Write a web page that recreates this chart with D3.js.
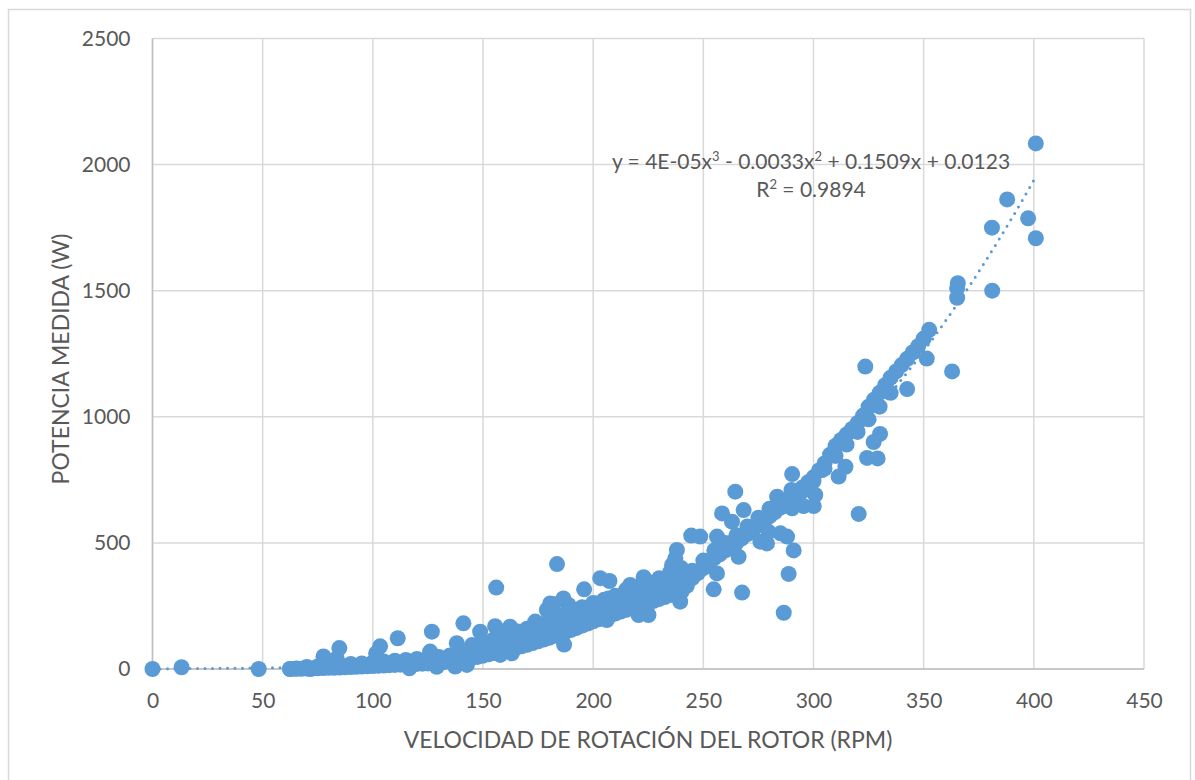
<!DOCTYPE html>
<html>
<head>
<meta charset="utf-8">
<script src="https://cdn.jsdelivr.net/npm/d3@7"></script>
<style>
  html, body { margin: 0; padding: 0; background: #ffffff; }
  svg { display: block; font-family: "Lato", "Open Sans", sans-serif; }
</style>
</head>
<body>
<svg id="chart" width="1195" height="780"></svg>
<script>
// Axis ticks
const xTicks = [0, 50, 100, 150, 200, 250, 300, 350, 400, 450];
const yTicks = [0, 500, 1000, 1500, 2000, 2500];

// Rotor speed (RPM) vs measured power (W): lower edge of the dense cloud
const bandLow = [
  [62.5,0],[65,1],[67.5,1],[70,2],[72.5,2],[75,3],[77.5,4],[80,5],[82.5,5],[85,6],
  [87.5,7],[90,8],[92.5,9],[95,10],[97.5,11],[100,12],[102.5,13],[105,14],[107.5,15],[110,16],
  [112.5,17],[115,18],[117.5,19],[120,20],[122.5,21],[125,22],[127.5,24],[130,25],[132.5,28],[135,30],
  [137.5,33],[140,36],[142.5,40],[145,44],[147.5,48],[150,53],[152.5,58],[155,63],[157.5,68],[160,73],
  [162.5,78],[165,84],[167.5,90],[170,96],[172.5,103],[175,110],[177.5,117],[180,124],[182.5,132],[185,140],
  [187.5,147],[190,155],[192.5,163],[195,172],[197.5,180],[200,189],[202.5,197],[205,205],[207.5,212],[210,220],
  [212.5,228],[215,235],[217.5,242],[220,248],[222.5,255],[225,262],[227.5,270],[230,278],[232.5,285],[235,293],
  [237.5,299],[240,305]
];

// Middle of the dense cloud
const bandMid = [
  [70,8],[75,10],[80,14],[85,16],[90,20],[95,22],[100,26],[105,30],[110,33],[115,36],
  [120,40],[125,44],[130,48],[135,54],[140,62],[145,72],[150,82],[155,92],[160,104],[165,116],
  [170,130],[175,145],[180,160],[185,176],[190,192],[195,208],[200,225],[205,242],[210,258],[215,274],
  [220,290],[225,305],[230,322],[235,338],[240,355]
];

// Upper part of the dense cloud
const bandHigh = [
  [145,95],[150,110],[155,118],[160,135],[165,150],[170,160],[175,180],[180,195],[185,212],[190,225],
  [195,245],[200,262],[205,275],[210,290],[215,315],[220,325],[225,345],[230,360],[235,385],[240,400]
];

// Core of the cloud at higher speeds
const bandCore = [
  [242.5,330],[245,360],[247.5,380],[250,400],[252.5,420],[255,440],[257.5,455],[260,470],[262.5,485],[265,500],
  [267.5,518],[270,535],[272.5,552],[275,570],[277.5,588],[280,605],[282.5,622],[285,640],[287.5,660],[290,680],
  [292.5,700],[295,720],[297.5,740],[300,760],[302.5,787],[305,815],[307.5,850],[310,885],[312.5,908],[315,930],
  [317.5,952],[320,975],[322.5,1005],[325,1040],[327.5,1068],[330,1095],[332.5,1125],[335,1155],[337.5,1180],[340,1205],
  [342.5,1230],[345,1255],[347.5,1280],[350,1310],[352.5,1345]
];

// Upper side of the cloud between 245 and 290 RPM
const bandCoreUpper = [
  [245,390],[250,430],[255,470],[260,500],[265,530],[270,565],[275,600],[280,635],[285,670],[290,710]
];

// Lower side of the cloud between 295 and 335 RPM
const bandCoreLower = [
  [295,705],[300,745],[305,795],[310,845],[315,890],[320,940],[325,990],[330,1040],[335,1095]
];

// Isolated measurements
const scatterPoints = [
  [0,0],[13.2,7],[48.2,0],[62.4,0],[65.5,2],[71.5,0],
  [77.6,50],[84.8,83],[83.6,42],[103.3,90],[101.5,62],[111.3,122],[126.8,148],[141.1,181],[138.1,102],
  [148.7,148],[126,69],[116.6,3],[129,9],[137.4,10],[142.7,16],
  [156,323],[183.6,416],[186.8,97],[155.5,170],[162.3,168],[166.9,148],[157.8,56],[163.1,62],[173.7,188],
  [179,234],[182,258],[186.5,280],[188.8,254],[180.5,260],[195.9,316],[203.2,360],[207.4,349],[195.6,227],
  [201.7,260],[207,280],[206.2,194],[216.8,333],[222.9,364],[229.7,340],[220.6,214],[225.1,214],[224.4,221],
  [238,472],[237.3,439],[235.8,412],[239.5,267],[244.5,529],[248.6,525],[256.2,525],[254.7,316],[256.2,379],
  [240.3,313],[264.5,703],[258.5,617],[268.3,630],[263,584],[266,445],[267.6,303],
  [290.3,773],[283.5,683],[275.9,505],[278.9,498],[288,525],[291,470],[288.7,377],[286.5,223],[279.6,544],[285,538],
  [300.8,690],[300.1,646],[295.5,646],[290.3,637],[311.4,763],[314.5,802],[303.9,789],[320.5,615],[324.3,837],
  [329.1,835],[327.3,900],[330.2,932],
  [323.5,1199],[342.5,1110],[351.4,1231],[362.9,1180],[365.5,1530],[365.2,1510],[365.2,1472],[381,1750],
  [381.1,1500],[387.9,1862],[397.4,1787],[400.9,2084],[400.9,1708]
];

// Polynomial trendline: a·x³ + b·x² + c·x + d
const trendCoefficients = [3.76e-5, -0.0033, 0.1509, 0.0123];
const rSquared = "0.9894";
const xTitle = "VELOCIDAD DE ROTACIÓN DEL ROTOR (RPM)";
const yTitle = "POTENCIA MEDIDA (W)";

const points = [].concat(bandLow, bandMid, bandHigh, bandCore, bandCoreUpper, bandCoreLower, scatterPoints);

const svg = d3.select("#chart");
const textColor = "#595959";
const dotColor = "#5b9bd5";

const x = d3.scaleLinear().domain([0, 450]).range([152.5, 1144]);
const y = d3.scaleLinear().domain([0, 2500]).range([669, 38.5]);

// Outer chart frame
svg.append("rect")
  .attr("x", 8.5).attr("y", 9.5).attr("width", 1182).attr("height", 775)
  .attr("fill", "#ffffff").attr("stroke", "#d9d9d9").attr("stroke-width", 1.5);

// Gridlines
svg.append("g").selectAll("line").data(yTicks).join("line")
  .attr("x1", x(0)).attr("x2", x(450))
  .attr("y1", d => y(d)).attr("y2", d => y(d))
  .attr("stroke", "#d9d9d9").attr("stroke-width", 1.5);
svg.append("g").selectAll("line").data(xTicks).join("line")
  .attr("x1", d => x(d)).attr("x2", d => x(d))
  .attr("y1", y(0)).attr("y2", y(2500))
  .attr("stroke", "#d9d9d9").attr("stroke-width", 1.5);

// Axis lines
svg.append("line").attr("x1", x(0)).attr("x2", x(450)).attr("y1", y(0)).attr("y2", y(0))
  .attr("stroke", "#bfbfbf").attr("stroke-width", 1.5);
svg.append("line").attr("x1", x(0)).attr("x2", x(0)).attr("y1", y(0)).attr("y2", y(2500))
  .attr("stroke", "#bfbfbf").attr("stroke-width", 1.5);

// Tick labels
const gx = svg.append("g").attr("transform", `translate(0,${y(0)})`)
  .call(d3.axisBottom(x).tickValues(xTicks).tickSize(0).tickPadding(24).tickFormat(d3.format("d")));
const gy = svg.append("g").attr("transform", `translate(${x(0)},0)`)
  .call(d3.axisLeft(y).tickValues(yTicks).tickSize(0).tickPadding(22).tickFormat(d3.format("d")));
[gx, gy].forEach(g => {
  g.select(".domain").remove();
  g.selectAll("text").attr("fill", textColor).style("font-size", "21px").style("font-family", "Lato");
});

// Points
svg.append("g").selectAll("circle").data(points).join("circle")
  .attr("cx", d => x(d[0])).attr("cy", d => y(d[1])).attr("r", 8)
  .attr("fill", dotColor);

// Trendline over the measured speed range
const [ca, cb, cc, cd] = trendCoefficients;
const trend = v => ca * v * v * v + cb * v * v + cc * v + cd;
const xMin = d3.min(points, d => d[0]);
const xMax = d3.max(points, d => d[0]);
const trendData = d3.range(xMin, xMax, 1).concat([xMax]).map(v => [v, trend(v)]);
svg.append("path")
  .datum(trendData)
  .attr("d", d3.line().x(d => x(d[0])).y(d => y(d[1])))
  .attr("fill", "none").attr("stroke", dotColor).attr("stroke-width", 3)
  .attr("stroke-linecap", "round").attr("stroke-dasharray", "0 7.5");

// Trendline equation
const eq = svg.append("text").attr("text-anchor", "middle").attr("fill", textColor)
  .style("font-size", "21px");
const line1 = eq.append("tspan").attr("x", 811).attr("y", 169);
line1.append("tspan").text("y = 4E-05x");
line1.append("tspan").attr("dy", -8).style("font-size", "13px").text("3");
line1.append("tspan").attr("dy", 8).text(" - 0.0033x");
line1.append("tspan").attr("dy", -8).style("font-size", "13px").text("2");
line1.append("tspan").attr("dy", 8).text(" + 0.1509x + 0.0123");
const line2 = eq.append("tspan").attr("x", 811).attr("y", 197);
line2.append("tspan").text("R");
line2.append("tspan").attr("dy", -8).style("font-size", "13px").text("2");
line2.append("tspan").attr("dy", 8).text(" = " + rSquared);

// Axis titles
svg.append("text").attr("x", 648).attr("y", 748).attr("text-anchor", "middle")
  .attr("fill", textColor).style("font-size", "23px").text(xTitle);
svg.append("text").attr("transform", "translate(69,359) rotate(-90)").attr("text-anchor", "middle")
  .attr("fill", textColor).style("font-size", "23px").text(yTitle);
</script>
</body>
</html>
